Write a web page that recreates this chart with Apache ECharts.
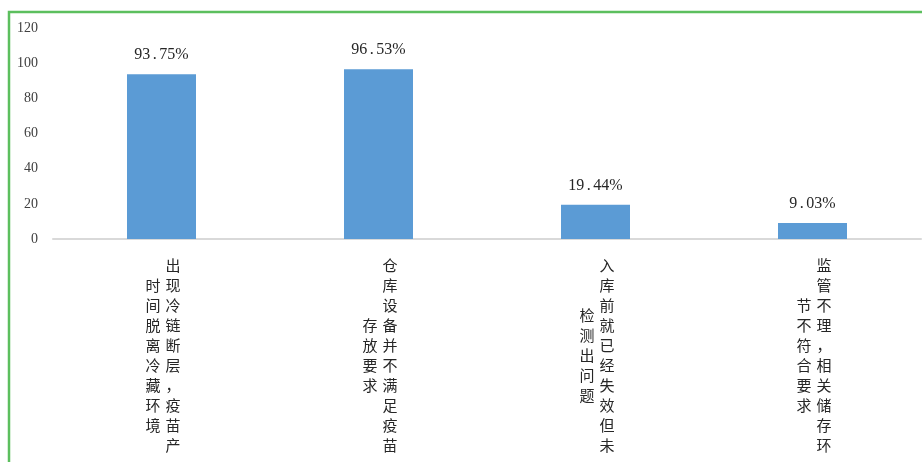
<!DOCTYPE html>
<html>
<head>
<meta charset="utf-8">
<script src="https://cdn.jsdelivr.net/npm/echarts@6/dist/echarts.min.js"></script>
<style>
  html, body { margin: 0; padding: 0; background: #fff; }
  #chart { width: 922px; height: 462px; }
</style>
</head>
<body>
<div id="chart"></div>
<script>
// Category names, split into the two vertical columns they wrap into
var categoryFirstCol = ['出现冷链断层，疫苗产', '仓库设备并不满足疫苗', '入库前就已经失效但未', '监管不理，相关储存环'];
var categorySecondCol = ['时间脱离冷藏环境', '存放要求', '检测出问题', '节不符合要求'];
var categories = categoryFirstCol.map(function (a, i) { return a + categorySecondCol[i]; });

// Share of respondents per problem (%)
var values = [93.75, 96.53, 19.44, 9.03];

// Value axis ticks
var yTicks = [0, 20, 40, 60, 80, 100, 120];

var CJK = '"Noto Sans CJK SC", "Noto Sans", sans-serif';
var SERIF = '"Liberation Serif", "DejaVu Serif", serif';

function colLines(str, styleName, padStyle, padFirst) {
  var chars = Array.from(str);
  return chars.map(function (ch) {
    return padFirst
      ? '{' + padStyle + '| }{' + styleName + '|' + ch + '}'
      : '{' + styleName + '|' + ch + '}{' + padStyle + '| }';
  });
}

var chart = echarts.init(document.getElementById('chart'), null, { renderer: 'canvas' });

var option = {
  animation: false,
  backgroundColor: '#ffffff',
  graphic: [{
    type: 'rect',
    shape: { x: 9, y: 12, width: 1000, height: 1000 },
    style: { fill: 'none', stroke: '#5cbf5e', lineWidth: 2.5 },
    silent: true
  }],
  grid: { left: 53, right: 1, top: 28, bottom: 223, containLabel: false },
  xAxis: [{
    type: 'category',
    data: categories,
    axisLine: { show: true, lineStyle: { color: '#d9d9d9', width: 2 } },
    axisTick: { show: false },
    axisLabel: {
      interval: 0,
      margin: 16,
      formatter: function (v, idx) {
        return colLines(categoryFirstCol[idx], 'c', 'p', true).join('\n');
      },
      rich: {
        c: { fontFamily: CJK, fontSize: 15, lineHeight: 20, width: 20, align: 'center', color: '#262626' },
        p: { fontFamily: CJK, fontSize: 15, lineHeight: 20, width: 23 }
      }
    }
  }, {
    type: 'category',
    data: categories,
    position: 'bottom',
    axisLine: { show: false },
    axisTick: { show: false },
    axisLabel: {
      interval: 0,
      margin: 16,
      formatter: function (v, idx) {
        var first = Array.from(categoryFirstCol[idx]).length;
        var second = Array.from(categorySecondCol[idx]).length;
        var halfRows = Math.round(first - second); // (first-second)/2 rows, in half-row steps
        var lines = [];
        for (var k = 0; k < halfRows; k++) lines.push('{h| }');
        return lines.concat(colLines(categorySecondCol[idx], 'c', 'p', false)).join('\n');
      },
      rich: {
        h: { fontSize: 8, lineHeight: 10 },
        c: { fontFamily: CJK, fontSize: 15, lineHeight: 20, width: 20, align: 'center', color: '#262626' },
        p: { fontFamily: CJK, fontSize: 15, lineHeight: 20, width: 17 }
      }
    }
  }],
  yAxis: {
    type: 'value',
    min: yTicks[0],
    max: yTicks[yTicks.length - 1],
    interval: yTicks[1] - yTicks[0],
    axisLine: { show: false },
    axisTick: { show: false },
    splitLine: { show: false },
    axisLabel: {
      margin: 15,
      fontFamily: SERIF,
      fontSize: 14,
      color: '#404040'
    }
  },
  series: [{
    type: 'bar',
    xAxisIndex: 0,
    data: values,
    barWidth: '31.8%',
    itemStyle: { color: '#5b9bd5' },
    label: {
      show: true,
      position: 'top',
      distance: 11,
      fontFamily: SERIF,
      fontSize: 16,
      color: '#262626',
      formatter: function (p) {
        return String(p.value).replace('.', '{d|.}') + '%';
      },
      rich: {
        d: { fontFamily: SERIF, fontSize: 16, width: 9, align: 'left', color: '#262626' }
      }
    }
  }]
};

chart.setOption(option);
</script>
</body>
</html>
